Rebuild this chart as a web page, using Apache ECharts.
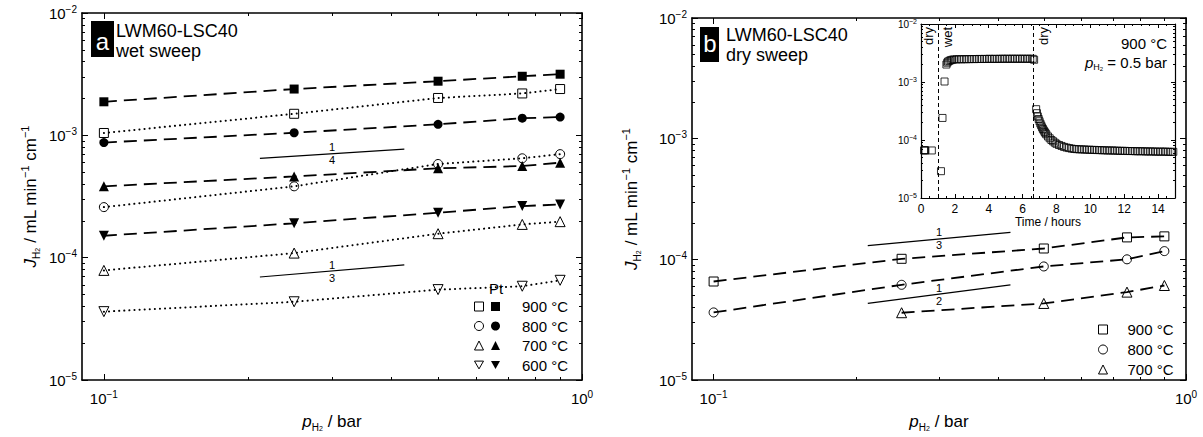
<!DOCTYPE html>
<html><head><meta charset="utf-8">
<script src="https://cdn.jsdelivr.net/npm/echarts@6/dist/echarts.min.js"></script>
<style>html,body{margin:0;padding:0;background:#fff}#c{width:1203px;height:437px}</style>
</head><body><div id="c"></div>
<script>
const FONT = "'Liberation Sans', Arial, Helvetica, sans-serif";

// ---------- tick values ----------
const xMajor = [0.1, 1];
const xMinor = [0.2, 0.3, 0.4, 0.5, 0.6, 0.7, 0.8, 0.9];
const yMajor = [1e-5, 1e-4, 1e-3, 1e-2];
const yMinor = [2e-5,3e-5,4e-5,5e-5,6e-5,7e-5,8e-5,9e-5,2e-4,3e-4,4e-4,5e-4,6e-4,7e-4,8e-4,9e-4,2e-3,3e-3,4e-3,5e-3,6e-3,7e-3,8e-3,9e-3];
const tMajor = [0, 2, 4, 6, 8, 10, 12, 14];
const tMinor = [0.5,1,1.5,2.5,3,3.5,4.5,5,5.5,6.5,7,7.5,8.5,9,9.5,10.5,11,11.5,12.5,13,13.5,14.5,15];

// ---------- panel a : wet sweep ----------
const pH2 = [0.1, 0.25, 0.5, 0.75, 0.9];
const wet900Pt = [1.88e-3, 2.39e-3, 2.77e-3, 3.04e-3, 3.16e-3];
const wet900   = [1.045e-3, 1.50e-3, 2.02e-3, 2.20e-3, 2.39e-3];
const wet800Pt = [8.73e-4, 1.05e-3, 1.23e-3, 1.38e-3, 1.41e-3];
const wet800   = [2.59e-4, 3.83e-4, 5.83e-4, 6.49e-4, 7.02e-4];
const wet700Pt = [3.83e-4, 4.61e-4, 5.38e-4, 5.61e-4, 5.98e-4];
const wet700   = [7.87e-5, 1.09e-4, 1.57e-4, 1.87e-4, 1.97e-4];
const wet600Pt = [1.51e-4, 1.91e-4, 2.33e-4, 2.64e-4, 2.72e-4];
const wet600   = [3.62e-5, 4.36e-5, 5.48e-5, 5.84e-5, 6.53e-5];

// ---------- panel b : dry sweep ----------
const pH2b700 = [0.25, 0.5, 0.75, 0.9];
const dry900 = [6.55e-5, 1.01e-4, 1.23e-4, 1.52e-4, 1.55e-4];
const dry800 = [3.63e-5, 6.15e-5, 8.73e-5, 1.00e-4, 1.17e-4];
const dry700 = [3.61e-5, 4.31e-5, 5.35e-5, 6.07e-5];

// ---------- slope guides ----------
const slopeX = [0.212, 0.425];
const slopeA14 = [6.49e-4, 7.71e-4];
const slopeA13 = [6.95e-5, 8.73e-5];
const slopeB13 = [1.30e-4, 1.67e-4];
const slopeB12 = [4.31e-5, 6.15e-5];
const slopeLabelX = 0.3;
const slopeLabelA14 = 7.11e-4;
const slopeLabelA13 = 7.78e-5;
const slopeLabelB13 = 1.48e-4;
const slopeLabelB12 = 5.15e-5;

// ---------- inset : time transient, 900 °C, pH2 = 0.5 bar ----------
const dryStartTime = [0.18, 0.22, 0.26, 0.64];
const dryStartFlux = [6.6e-5, 6.7e-5, 6.6e-5, 6.6e-5];
const wetTime = [1.18,1.27,1.39,1.50,1.55,1.60,1.68,1.76,1.85,
  1.95,2.10,2.25,2.40,2.55,2.70,2.85,3.00,3.15,3.30,3.45,3.60,3.75,3.90,4.05,4.20,
  4.35,4.50,4.65,4.80,4.95,5.10,5.25,5.40,5.55,5.70,5.85,6.00,6.15,6.30,6.45,6.60,6.68];
const wetFlux = [2.9e-5,2.4e-4,1.02e-3,2.0e-3,2.15e-3,2.25e-3,2.32e-3,2.38e-3,2.42e-3,
  2.45e-3,2.46e-3,2.47e-3,2.46e-3,2.48e-3,2.47e-3,2.48e-3,2.49e-3,2.48e-3,2.49e-3,2.50e-3,2.49e-3,2.50e-3,2.50e-3,2.51e-3,2.50e-3,
  2.51e-3,2.50e-3,2.51e-3,2.52e-3,2.51e-3,2.52e-3,2.51e-3,2.52e-3,2.52e-3,2.51e-3,2.52e-3,2.52e-3,2.51e-3,2.52e-3,2.52e-3,2.51e-3,2.42e-3];
const dryDecayTime = [6.80,6.85,6.90,6.95,7.00,7.05,7.10,7.15,7.20,7.25,7.30,7.35,7.40,7.50,7.60,7.70,7.80,7.90,8.00,8.15,8.30,8.45,8.60,8.75,8.90];
const dryDecayFlux = [3.4e-4,2.9e-4,2.55e-4,2.3e-4,2.1e-4,1.92e-4,1.78e-4,1.65e-4,1.55e-4,1.46e-4,1.38e-4,1.31e-4,1.25e-4,1.15e-4,1.07e-4,1.0e-4,9.5e-5,9.0e-5,8.6e-5,8.2e-5,7.9e-5,7.6e-5,7.4e-5,7.25e-5,7.1e-5];
const dryTailTime = [9.05,9.20,9.35,9.50,9.65,9.80,9.95,10.10,10.25,10.40,10.55,10.70,10.85,11.00,11.15,11.30,11.45,11.60,11.75,11.90,
  12.05,12.20,12.35,12.50,12.65,12.80,12.95,13.10,13.25,13.40,13.55,13.70,13.85,14.00,14.15,14.30,14.45,14.60,14.75,14.90];
const dryTailFlux = [7.0e-5,6.95e-5,6.9e-5,6.9e-5,6.85e-5,6.8e-5,6.8e-5,6.75e-5,6.75e-5,6.7e-5,6.7e-5,6.65e-5,6.65e-5,6.6e-5,6.6e-5,6.6e-5,6.55e-5,6.55e-5,6.5e-5,6.5e-5,
  6.5e-5,6.45e-5,6.45e-5,6.45e-5,6.4e-5,6.4e-5,6.4e-5,6.4e-5,6.35e-5,6.35e-5,6.35e-5,6.35e-5,6.3e-5,6.3e-5,6.3e-5,6.3e-5,6.3e-5,6.25e-5,6.25e-5,6.25e-5];
const switchTimes = [1.0, 6.65];

const tempNames = ['900 °C', '800 °C', '700 °C', '600 °C'];

// ---------- helpers ----------
function pts(xs, ys) { return xs.map((x, i) => [x, ys[i]]); }
function logFmt(v) {
  const e = Math.round(Math.log10(v));
  return '{b|10}{s|' + (e < 0 ? '\u2212' : '') + Math.abs(e) + '}';
}
const richMain = {
  b: {fontSize: 15, fontFamily: FONT, color: '#000', lineHeight: 18},
  s: {fontSize: 10, fontFamily: FONT, color: '#000', lineHeight: 8, verticalAlign: 'top'}
};
const richInset = {
  b: {fontSize: 10, fontFamily: FONT, color: '#000', lineHeight: 12},
  s: {fontSize: 7, fontFamily: FONT, color: '#000', lineHeight: 6, verticalAlign: 'top'}
};
const nameRich = {
  i: {fontSize: 17, fontFamily: FONT, fontStyle: 'italic', color: '#000', lineHeight: 22},
  t: {fontSize: 17, fontFamily: FONT, color: '#000', lineHeight: 22},
  sub: {fontSize: 10, fontFamily: FONT, color: '#000', lineHeight: 9, verticalAlign: 'bottom'},
  sub2: {fontSize: 7, fontFamily: FONT, color: '#000', lineHeight: 7, verticalAlign: 'bottom'},
  sup: {fontSize: 11, fontFamily: FONT, color: '#000', lineHeight: 11, verticalAlign: 'top'}
};
const yName = '{i|J}{sub|H}{sub2|2}{t| / mL min}{sup|\u22121}{t| cm}{sup|\u22121}';
const xName = '{i|p}{sub|H}{sub2|2}{t| / bar}';

function axisSet(gridIndex, c) {
  const base = {gridIndex, type: c.type, min: c.min, max: c.max, splitLine: {show: false},
    silent: true, axisPointer: {show: false}};
  if (c.type === 'log') base.logBase = 10;
  const line = {show: true, onZero: false, lineStyle: {color: '#000', width: c.lw}};
  const noLine = {show: false, onZero: false};
  const tickMaj = {show: true, inside: true, length: c.majLen, customValues: c.major, lineStyle: {color: '#000', width: 1}};
  const tickMin = {show: true, inside: true, length: c.minLen, customValues: c.minor, lineStyle: {color: '#000', width: 1}};
  const primary = Object.assign({}, base, {
    position: c.pos[0], axisLine: line, axisTick: tickMaj,
    axisLabel: {show: true, customValues: c.labels, formatter: c.fmt, margin: c.margin, color: '#000',
      fontFamily: FONT, fontSize: c.fontSize, rich: c.rich},
    name: c.name || '', nameLocation: 'middle', nameGap: c.nameGap || 0,
    nameTextStyle: {fontFamily: FONT, fontSize: c.nameSize || 17, color: '#000', rich: nameRich}
  });
  return [
    primary,
    Object.assign({}, base, {position: c.pos[0], axisLine: noLine, axisTick: tickMin, axisLabel: {show: false}}),
    Object.assign({}, base, {position: c.pos[1], axisLine: line, axisTick: tickMaj, axisLabel: {show: false}}),
    Object.assign({}, base, {position: c.pos[1], axisLine: noLine, axisTick: tickMin, axisLabel: {show: false}})
  ];
}

const xAxes = [].concat(
  axisSet(0, {type: 'log', min: 0.09, max: 1, major: xMajor, minor: xMinor, labels: xMajor, fmt: logFmt,
    rich: richMain, margin: 9, majLen: 6, minLen: 3, lw: 1.6, pos: ['bottom', 'top'], name: xName, nameGap: 30}),
  axisSet(1, {type: 'log', min: 0.09, max: 1, major: xMajor, minor: xMinor, labels: xMajor, fmt: logFmt,
    rich: richMain, margin: 9, majLen: 6, minLen: 3, lw: 1.6, pos: ['bottom', 'top'], name: xName, nameGap: 30}),
  axisSet(2, {type: 'value', min: 0, max: 15, major: tMajor, minor: tMinor, labels: tMajor, fmt: v => String(v),
    fontSize: 12, margin: 5, majLen: 4, minLen: 2, lw: 1.2, pos: ['bottom', 'top'],
    name: '{u|Time / hours}', nameGap: 18, nameSize: 12})
);
xAxes[8].nameTextStyle.rich = Object.assign({}, nameRich, {u: {fontSize: 12, fontFamily: FONT, color: '#000'}});

const yAxes = [].concat(
  axisSet(0, {type: 'log', min: 1e-5, max: 1e-2, major: yMajor, minor: yMinor, labels: yMajor, fmt: logFmt,
    rich: richMain, margin: 5, majLen: 6, minLen: 3, lw: 1.6, pos: ['left', 'right'], name: yName, nameGap: 41}),
  axisSet(1, {type: 'log', min: 1e-5, max: 1e-2, major: yMajor, minor: yMinor, labels: yMajor, fmt: logFmt,
    rich: richMain, margin: 5, majLen: 6, minLen: 3, lw: 1.6, pos: ['left', 'right'], name: yName, nameGap: 50}),
  axisSet(2, {type: 'log', min: 1e-5, max: 1e-2, major: yMajor, minor: yMinor, labels: yMajor, fmt: logFmt,
    rich: richInset, margin: 4, majLen: 4, minLen: 2, lw: 1.2, pos: ['left', 'right']})
);

const OPEN = {color: 'rgba(0,0,0,0)', borderColor: '#000', borderWidth: 1};
const FILLED = {color: '#000', borderColor: '#000', borderWidth: 0};
const DASH = {color: '#000', width: 1.8, type: [13, 7]};
const DOT = {color: '#000', width: 2, type: [0.1, 5], cap: 'round'};
const DOWN = 'path://M0,0L10,0L5,8.66Z';

function dataSeries(name, grid, xs, ys, symbol, filled, lineStyle, size) {
  return {
    name, type: 'line', xAxisIndex: grid * 4, yAxisIndex: grid * 4, data: pts(xs, ys),
    symbol, symbolSize: size || 9, showAllSymbol: true,
    itemStyle: filled ? FILLED : OPEN, lineStyle, silent: true, z: 3,
    emphasis: {disabled: true}
  };
}
function slopeSeries(grid, ys) {
  return {type: 'line', xAxisIndex: grid * 4, yAxisIndex: grid * 4, data: pts(slopeX, ys),
    symbol: 'none', lineStyle: {color: '#000', width: 1.2, type: 'solid'}, silent: true, z: 2};
}
const fracRich = {
  n: {fontSize: 11, fontFamily: FONT, color: '#000', lineHeight: 13},
  d: {fontSize: 11, fontFamily: FONT, color: '#000', lineHeight: 13}
};
function fracSeries(grid, y, den) {
  return {type: 'scatter', xAxisIndex: grid * 4, yAxisIndex: grid * 4, data: [[slopeLabelX, y]],
    symbolSize: 1, itemStyle: {color: '#000', opacity: 0}, silent: true, z: 4,
    label: {show: true, position: ['50%', '50%'], align: 'center', verticalAlign: 'middle',
      color: '#000', textBorderWidth: 0, opacity: 1,
      formatter: '{n|1}\n{d|' + den + '}', rich: fracRich}};
}

const series = [
  dataSeries('a900f', 0, pH2, wet900Pt, 'rect', true, DASH),
  dataSeries('a900o', 0, pH2, wet900, 'rect', false, DOT),
  dataSeries('a800f', 0, pH2, wet800Pt, 'circle', true, DASH),
  dataSeries('a800o', 0, pH2, wet800, 'circle', false, DOT),
  dataSeries('a700f', 0, pH2, wet700Pt, 'triangle', true, DASH, 10),
  dataSeries('a700o', 0, pH2, wet700, 'triangle', false, DOT, 10),
  dataSeries('a600f', 0, pH2, wet600Pt, DOWN, true, DASH, 10),
  dataSeries('a600o', 0, pH2, wet600, DOWN, false, DOT, 10),
  slopeSeries(0, slopeA14), slopeSeries(0, slopeA13),
  fracSeries(0, slopeLabelA14, 4), fracSeries(0, slopeLabelA13, 3),
  dataSeries('b900', 1, pH2, dry900, 'rect', false, DASH),
  dataSeries('b800', 1, pH2, dry800, 'circle', false, DASH),
  dataSeries('b700', 1, pH2b700, dry700, 'triangle', false, DASH, 10),
  slopeSeries(1, slopeB13), slopeSeries(1, slopeB12),
  fracSeries(1, slopeLabelB13, 3), fracSeries(1, slopeLabelB12, 2),
  {type: 'scatter', xAxisIndex: 8, yAxisIndex: 8, silent: true, z: 6,
   data: [].concat(pts(dryStartTime, dryStartFlux), pts(wetTime, wetFlux), pts(dryDecayTime, dryDecayFlux), pts(dryTailTime, dryTailFlux)),
   symbol: 'rect', symbolSize: 7, itemStyle: {color: 'rgba(0,0,0,0)', borderColor: '#000', borderWidth: 1},
   markLine: {silent: true, symbol: ['none', 'none'], animation: false,
     lineStyle: {color: '#000', width: 1, type: [4, 3]},
     label: {fontFamily: FONT, fontSize: 13, color: '#000', distance: 3},
     data: [
       {xAxis: switchTimes[0], label: {formatter: 'dry', position: 'insideEndTop'}},
       {xAxis: switchTimes[0], label: {formatter: 'wet', position: 'insideEndBottom'}},
       {xAxis: switchTimes[1], label: {formatter: 'dry', position: 'insideEndBottom'}}
     ]}}
];

function legendItems(names, icons, style) {
  return names.map((n, i) => ({name: n, icon: icons[i], itemStyle: style}));
}
const icons = ['rect', 'circle', 'triangle', DOWN];
const legendCommon = {orient: 'vertical', itemWidth: 9, itemHeight: 9, padding: 0, selectedMode: false,
  textStyle: {fontFamily: FONT, fontSize: 15, color: '#000', lineHeight: 9}};
const legTextRich = (gap) => ({g: {width: gap, lineHeight: 9}, t: {fontSize: 15, fontFamily: FONT, color: '#000', lineHeight: 9}});

const option = {
  animation: false,
  backgroundColor: '#fff',
  textStyle: {fontFamily: FONT},
  grid: [
    {left: 82, top: 13, width: 500, height: 371},
    {left: 692, top: 18, width: 494, height: 368},
    {left: 921, top: 24, width: 254, height: 174, show: true, backgroundColor: '#fff', borderWidth: 0}
  ],
  xAxis: xAxes,
  yAxis: yAxes,
  legend: [
    Object.assign({}, legendCommon, {left: 474, top: 299, itemGap: 4.5,
      data: legendItems(['a900o', 'a800o', 'a700o', 'a600o'], icons, {color: 'rgba(0,0,0,0)', borderColor: '#000', borderWidth: 1}),
      formatter: () => '{g|}', textStyle: Object.assign({}, legendCommon.textStyle, {rich: legTextRich(1)})}),
    Object.assign({}, legendCommon, {left: 491, top: 299, itemGap: 4.5,
      data: legendItems(['a900f', 'a800f', 'a700f', 'a600f'], icons, {color: '#000', borderWidth: 0}),
      formatter: n => '{g|}{t|' + tempNames[['a900f', 'a800f', 'a700f', 'a600f'].indexOf(n)] + '}',
      textStyle: Object.assign({}, legendCommon.textStyle, {rich: legTextRich(17)})}),
    Object.assign({}, legendCommon, {left: 1098, top: 322, itemGap: 5,
      data: legendItems(['b900', 'b800', 'b700'], icons, {color: 'rgba(0,0,0,0)', borderColor: '#000', borderWidth: 1}),
      formatter: n => '{g|}{t|' + tempNames[['b900', 'b800', 'b700'].indexOf(n)] + '}',
      textStyle: Object.assign({}, legendCommon.textStyle, {rich: legTextRich(15)})})
  ],
  graphic: [
    {type: 'rect', shape: {x: 91, y: 21, width: 23, height: 36}, style: {fill: '#000'}, z: 10},
    {type: 'text', z: 11, style: {text: 'a', x: 102.5, y: 41, fill: '#fff', fontSize: 24, fontFamily: FONT, textAlign: 'center', textVerticalAlign: 'middle'}},
    {type: 'text', z: 11, style: {text: 'LWM60-LSC40', x: 116, y: 31, fill: '#000', fontSize: 18, fontFamily: FONT, textAlign: 'left', textVerticalAlign: 'middle'}},
    {type: 'text', z: 11, style: {text: 'wet sweep', x: 116, y: 51, fill: '#000', fontSize: 18, fontFamily: FONT, textAlign: 'left', textVerticalAlign: 'middle'}},
    {type: 'rect', shape: {x: 700, y: 27, width: 19, height: 35}, style: {fill: '#000'}, z: 10},
    {type: 'text', z: 11, style: {text: 'b', x: 710, y: 43, fill: '#fff', fontSize: 24, fontFamily: FONT, textAlign: 'center', textVerticalAlign: 'middle'}},
    {type: 'text', z: 11, style: {text: 'LWM60-LSC40', x: 726, y: 35, fill: '#000', fontSize: 18, fontFamily: FONT, textAlign: 'left', textVerticalAlign: 'middle'}},
    {type: 'text', z: 11, style: {text: 'dry sweep', x: 726, y: 55, fill: '#000', fontSize: 18, fontFamily: FONT, textAlign: 'left', textVerticalAlign: 'middle'}},
    {type: 'text', z: 11, style: {text: 'Pt', x: 496, y: 288, fill: '#000', fontSize: 15, fontFamily: FONT, textAlign: 'center', textVerticalAlign: 'middle'}},
    {type: 'text', z: 11, style: {text: '900 °C', x: 1167, y: 43, fill: '#000', fontSize: 15, fontFamily: FONT, textAlign: 'right', textVerticalAlign: 'middle'}},
    {type: 'text', z: 11, style: {text: '{i|p}{sub|H}{sub2|2}{t| = 0.5 bar}', x: 1167, y: 62, fill: '#000', fontSize: 15, fontFamily: FONT, textAlign: 'right', textVerticalAlign: 'middle',
      rich: {
        i: {fontSize: 15, fontFamily: FONT, fontStyle: 'italic', fill: '#000', lineHeight: 19},
        t: {fontSize: 15, fontFamily: FONT, fill: '#000', lineHeight: 19},
        sub: {fontSize: 9, fontFamily: FONT, fill: '#000', lineHeight: 8, verticalAlign: 'bottom'},
        sub2: {fontSize: 6, fontFamily: FONT, fill: '#000', lineHeight: 6, verticalAlign: 'bottom'}
      }}}
  ],
  series
};

const chart = echarts.init(document.getElementById('c'), null, {renderer: 'svg'});
chart.setOption(option);
</script>
</body></html>
